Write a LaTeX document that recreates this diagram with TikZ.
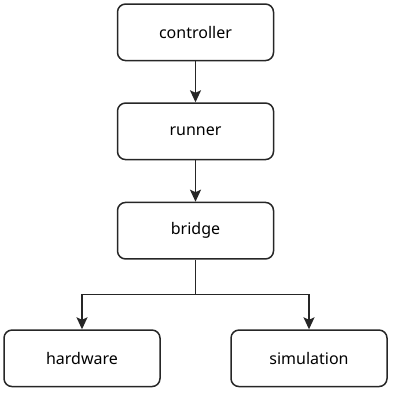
\documentclass[tikz,border=0pt]{standalone}
\usepackage{fontspec}
\setmainfont{Noto Sans}
\usetikzlibrary{arrows.meta}
\begin{document}
\begin{tikzpicture}[x=1pt,y=-1pt,
  box/.style={draw=black!85,line width=1.5pt,rounded corners=8pt,minimum width=156pt,minimum height=56.5pt,inner sep=0pt,font=\fontsize{16}{19}\selectfont},
  conn/.style={draw=black!85,line width=1.5pt,-{Stealth[length=12pt,width=11pt,inset=2.5pt]}}]
\useasboundingbox (0,0) rectangle (407,407);
\node[box] (controller) at (195.5,32.3) {controller};
\node[box] (runner) at (195.5,131.3) {runner};
\node[box] (bridge) at (195.5,230.7) {bridge};
\node[box] (hardware) at (82,358.3) {hardware};
\node[box] (simulation) at (309,358.3) {simulation};
\coordinate (split) at (195.5,294.3);
\draw[conn] (controller) -- (runner);
\draw[conn] (runner) -- (bridge);
\draw[conn] (bridge.south) -- (split) -| (hardware.north);
\draw[conn] (split) -| (simulation.north);
\end{tikzpicture}
\end{document}
